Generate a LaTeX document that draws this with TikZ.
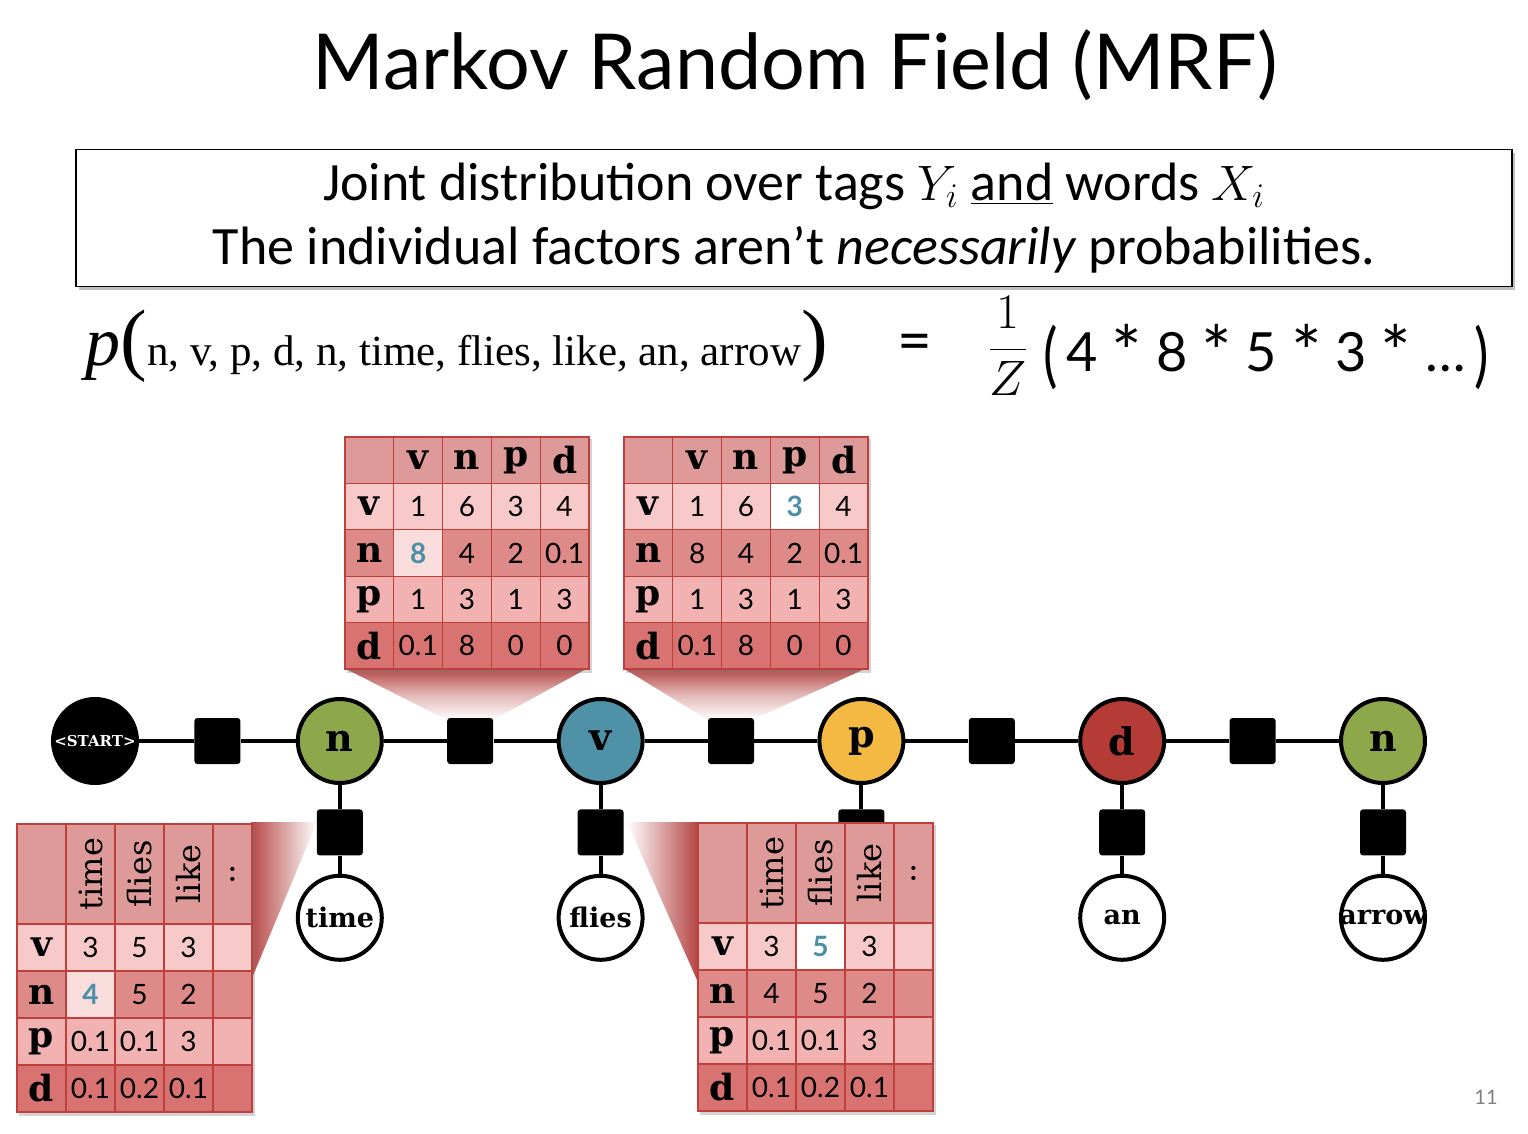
\documentclass[tikz,border=0pt]{standalone}
\usepackage{fontspec}
\setmainfont{Carlito}
\newfontfamily\gillfont{Lato}
\newfontfamily\slabfont{DejaVu Serif}
\newfontfamily\timesfont{Liberation Serif}
\usepackage{tikz}
\usetikzlibrary{positioning,matrix,shadows}
\definecolor{hdrred}{RGB}{222,153,153}
\definecolor{rowv}{RGB}{247,201,201}
\definecolor{rown}{RGB}{222,138,136}
\definecolor{rowp}{RGB}{242,178,178}
\definecolor{rowd}{RGB}{217,115,113}
\definecolor{cellline}{RGB}{190,64,60}
\definecolor{funnel}{RGB}{181,72,70}
\definecolor{hlpink}{RGB}{249,221,221}
\definecolor{hlblue}{RGB}{75,143,167}
\definecolor{ngreen}{RGB}{140,168,74}
\definecolor{vblue}{RGB}{79,145,166}
\definecolor{pyellow}{RGB}{243,185,66}
\definecolor{dred}{RGB}{181,59,54}
\newcommand{\cellnum}{\gillfont\fontsize{14}{14}\selectfont}
\newcommand{\celllet}{\slabfont\bfseries\fontsize{18}{18}\selectfont}
\newcommand{\cellhead}{\slabfont\fontsize{16}{16}\selectfont}
\newcommand{\vhead}[1]{\rotatebox{90}{#1}}
\newcommand{\bigast}{{\fontsize{36}{36}\selectfont\raisebox{-3pt}{*}}}

\begin{document}
\begin{tikzpicture}[
  x=0.5pt, y=-0.5pt,
  link/.style={line width=2pt},
  tagvar/.style={circle, draw, line width=2pt, minimum size=42pt, inner sep=0pt, font=\slabfont\bfseries\fontsize{19}{19}\selectfont},
  wordvar/.style={tagvar, fill=white, font=\slabfont\bfseries\fontsize{13.5}{13.5}\selectfont},
  factor/.style={rectangle, fill=black, rounded corners=1.5pt, minimum size=23pt, inner sep=0pt},
  tbl/.style={matrix of nodes, nodes in empty cells, anchor=north west, inner sep=0pt,
    column sep=-0.6pt, row sep=-0.6pt,
    drop shadow={shadow xshift=1.2pt, shadow yshift=-1.5pt, opacity=0.35},
    nodes={draw=cellline, line width=0.6pt, minimum width=24.4pt, minimum height=23.2pt, inner sep=0pt, anchor=center, font=\cellnum},
    row 1/.style={nodes={fill=hdrred, font=\celllet}},
    row 2/.style={nodes={fill=rowv}},
    row 3/.style={nodes={fill=rown}},
    row 4/.style={nodes={fill=rowp}},
    row 5/.style={nodes={fill=rowd}},
    column 1/.style={nodes={font=\celllet}}},
  emit/.style={tbl, nodes={minimum width=24.5pt, minimum height=23.5pt},
    row 1/.style={nodes={fill=hdrred, font=\cellhead, minimum height=50pt}},
    column 5/.style={nodes={minimum width=19.5pt}}},
  hl/.style={fill=hlpink, text=hlblue, font=\cellnum\bfseries}
]
\useasboundingbox (0,0) rectangle (1528,1134);

% heading and note
\node[font=\gillfont\fontsize{38.6}{38.6}\selectfont] (title) at (795,65) {Markov Random Field (MRF)};
\node[draw, fill=white, line width=0.8pt, minimum width=718pt, minimum height=68.5pt, align=center,
  font=\fontsize{27}{32}\selectfont, drop shadow={shadow xshift=1.5pt, shadow yshift=-2pt, opacity=0.5}] (note) at (794,218)
  {Joint distribution over tags $Y_i$ \underline{and} words $X_i$\\The individual factors aren’t \textit{necessarily} probabilities.};

% the product
\node[anchor=base west, inner sep=0pt] (joint) at (85,366) {\timesfont{\itshape\fontsize{35}{35}\selectfont p}{\fontsize{40}{40}\selectfont(}{\fontsize{21.5}{21.5}\selectfont n, v, p, d, n, time, flies, like, an, arrow}{\fontsize{40}{40}\selectfont)}};
\node[font=\gillfont\fontsize{30}{30}\selectfont] (eq) at (915,348) {=};
\node[font=\fontsize{28}{28}\selectfont] (norm) at (1008,346) {$\displaystyle\frac{1}{Z}$};
\node[anchor=base west, inner sep=0pt, font=\gillfont\fontsize{27}{27}\selectfont] (prod) at (1043,372)
  {\raisebox{-4pt}{\scalebox{1}[1.3]{(}}\,4 \bigast{} 8 \bigast{} 5 \bigast{} 3 \bigast{} …\,\raisebox{-4pt}{\scalebox{1}[1.3]{)}}};

% zoom funnels
\shade[top color=funnel, bottom color=white, middle color=funnel!40] (344,668) -- (588,668) -- (493,720) -- (447,720) -- cycle;
\shade[top color=funnel, bottom color=white, middle color=funnel!40] (623,668) -- (867,668) -- (752,720) -- (708,720) -- cycle;
\shade[left color=funnel, right color=white] (251,822) -- (317,822) -- (252,978) -- cycle;
\shade[left color=white, right color=funnel] (627,822) -- (697,822) -- (697,980) -- cycle;

% chain of tags
\node[tagvar, fill=black, text=white, font=\slabfont\bfseries\fontsize{7.5}{7.5}\selectfont] (start) at (95,741) {<START>};
\node[factor, right=27.5pt of start] (f0) {};
\node[tagvar, fill=ngreen, right=27.5pt of f0] (y1) {n};
\node[factor, right=31.5pt of y1] (f1) {};
\node[tagvar, fill=vblue, right=31.5pt of f1] (y2) {v};
\node[factor, right=31.5pt of y2] (f2) {};
\node[tagvar, fill=pyellow, right=31.5pt of f2] (y3) {p};
\node[factor, right=31.5pt of y3] (f3) {};
\node[tagvar, fill=dred, right=31.5pt of f3] (y4) {d};
\node[factor, right=31.5pt of y4] (f4) {};
\node[tagvar, fill=ngreen, right=31.5pt of f4] (y5) {n};
\draw[link] (start) -- (f0); \draw[link] (f0) -- (y1);
\draw[link] (y1) -- (f1); \draw[link] (f1) -- (y2);
\draw[link] (y2) -- (f2); \draw[link] (f2) -- (y3);
\draw[link] (y3) -- (f3); \draw[link] (f3) -- (y4);
\draw[link] (y4) -- (f4); \draw[link] (f4) -- (y5);

% words
\node[factor, below=12pt of y1] (g1) {};
\node[wordvar, below=9pt of g1] (x1) {time};
\node[factor, below=12pt of y2] (g2) {};
\node[wordvar, below=9pt of g2] (x2) {flies};
\node[factor, below=12pt of y3] (g3) {};
\node[factor, below=12pt of y4] (g4) {};
\node[wordvar, below=9pt of g4] (x4) {an};
\node[factor, below=12pt of y5] (g5) {};
\node[wordvar, below=9pt of g5] (x5) {\makebox[0pt]{arrow}};
\draw[link] (y1) -- (g1); \draw[link] (g1) -- (x1);
\draw[link] (y2) -- (g2); \draw[link] (g2) -- (x2);
\draw[link] (y3) -- (g3);
\draw[link] (y4) -- (g4); \draw[link] (g4) -- (x4);
\draw[link] (y5) -- (g5); \draw[link] (g5) -- (x5);

% factor tables
\matrix (trans1) [tbl] at (344,436) {
  & v & n & p & d \\
  v & 1 & 6 & 3 & 4 \\
  n & |[hl]| 8 & 4 & 2 & 0.1 \\
  p & 1 & 3 & 1 & 3 \\
  d & 0.1 & 8 & 0 & 0 \\
};
\matrix (trans2) [tbl] at (623,436) {
  & v & n & p & d \\
  v & 1 & 6 & |[hl, fill=white]| 3 & 4 \\
  n & 8 & 4 & 2 & 0.1 \\
  p & 1 & 3 & 1 & 3 \\
  d & 0.1 & 8 & 0 & 0 \\
};
\matrix (emit1) [emit] at (16,823) {
  & \vhead{time} & \vhead{flies} & \vhead{like} & \vhead{..} \\
  v & 3 & 5 & 3 & \\
  n & |[hl]| 4 & 5 & 2 & \\
  p & 0.1 & 0.1 & 3 & \\
  d & 0.1 & 0.2 & 0.1 & \\
};
\matrix (emit2) [emit] at (697,822) {
  & \vhead{time} & \vhead{flies} & \vhead{like} & \vhead{..} \\
  v & 3 & |[hl, fill=white]| 5 & 3 & \\
  n & 4 & 5 & 2 & \\
  p & 0.1 & 0.1 & 3 & \\
  d & 0.1 & 0.2 & 0.1 & \\
};

\node[text=black!50, font=\gillfont\fontsize{10}{10}\selectfont] (pnum) at (1486,1097) {11};
\end{tikzpicture}
\end{document}
